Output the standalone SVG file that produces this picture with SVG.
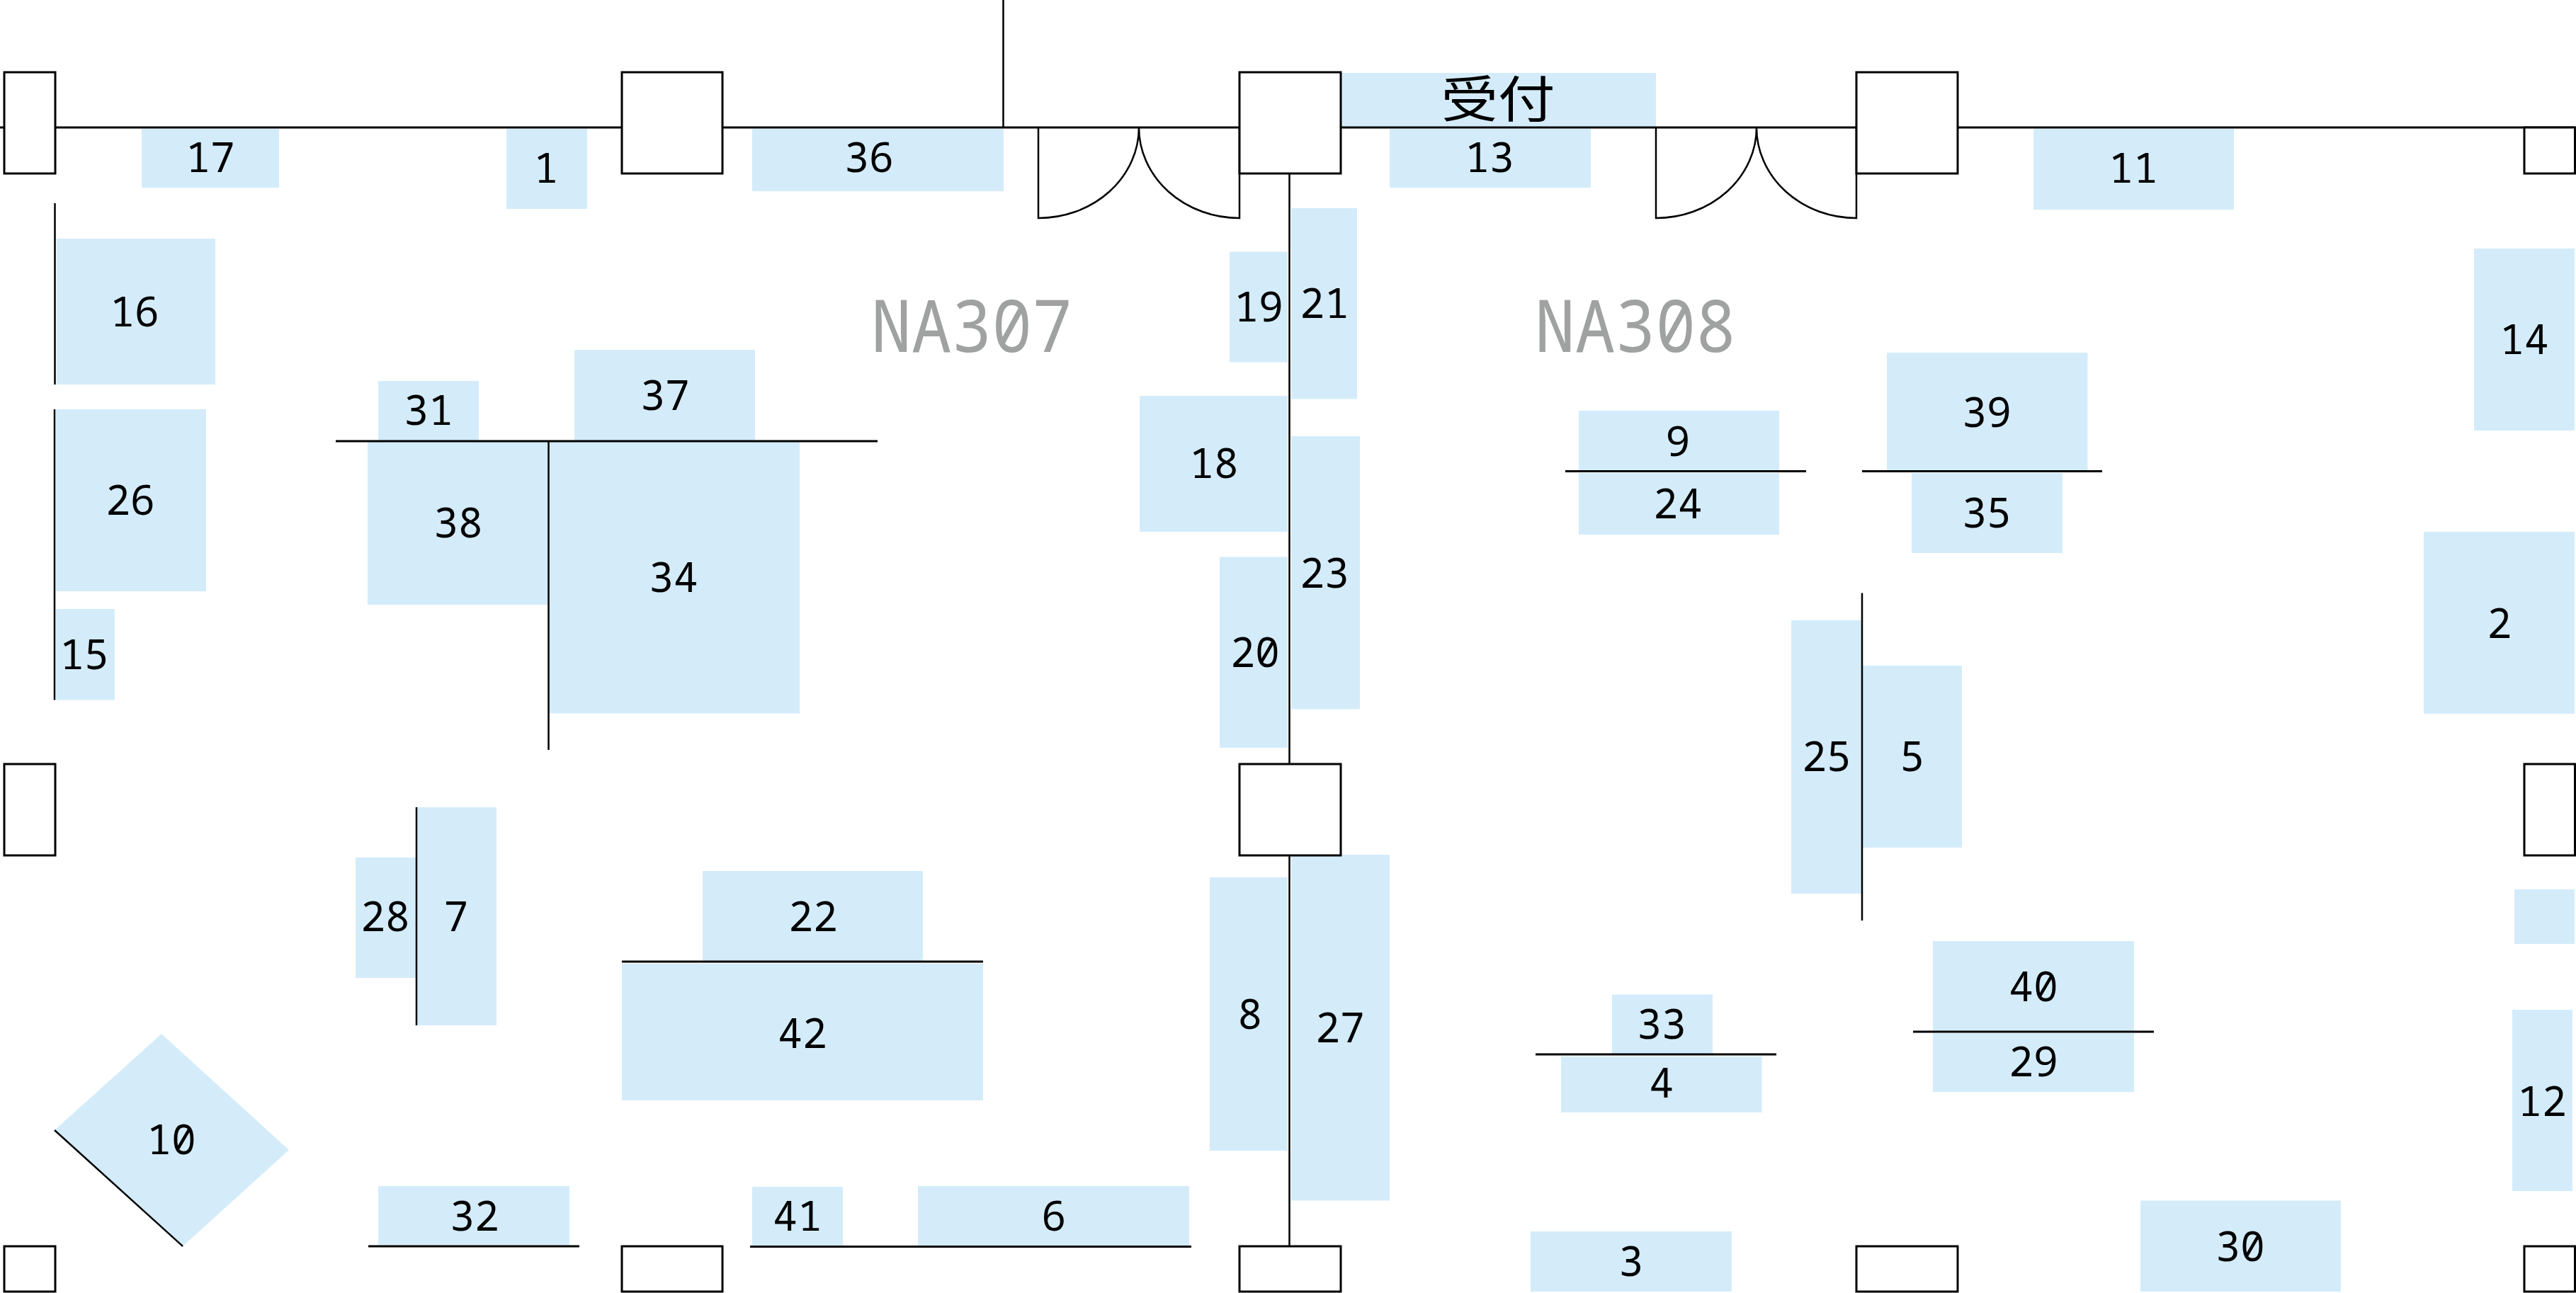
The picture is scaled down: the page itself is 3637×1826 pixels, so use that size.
<svg xmlns="http://www.w3.org/2000/svg" width="3637" height="1826" viewBox="0 0 3637 1826">
<style>
.b{fill:#d4ecfa}
.p{fill:#fff;stroke:#000;stroke-width:3}
.w{fill:none;stroke:#000;stroke-width:3}
.d{fill:none;stroke:#000;stroke-width:2.500}
text{font-family:"Noto Sans Mono","DejaVu Sans Mono","Noto Sans CJK JP",monospace;font-size:58px;fill:#000;text-anchor:middle}
.r{font-size:102px;fill:#a0a1a1}
.c{font-size:70px}
</style>
<rect width="3637" height="1826" fill="#fff"/>
<g id="booth-1"><rect class="b" x="715" y="182" width="114" height="113"/><text x="771" y="258">1</text></g>
<g id="booth-2"><rect class="b" x="3422" y="751" width="213" height="257"/><text x="3529" y="901">2</text></g>
<g id="booth-3"><rect class="b" x="2161" y="1739" width="284" height="85"/><text x="2303" y="1802">3</text></g>
<g id="booth-4"><rect class="b" x="2204" y="1492" width="283.500" height="79"/><text x="2346" y="1550">4</text></g>
<g id="booth-5"><rect class="b" x="2630" y="940" width="140" height="257"/><text x="2700" y="1089">5</text></g>
<g id="booth-6"><rect class="b" x="1296" y="1675" width="383" height="84"/><text x="1488" y="1738">6</text></g>
<g id="booth-7"><rect class="b" x="588" y="1140" width="113" height="308"/><text x="644" y="1315">7</text></g>
<g id="booth-8"><rect class="b" x="1708" y="1239" width="110" height="386"/><text x="1765" y="1453">8</text></g>
<g id="booth-9"><rect class="b" x="2229" y="580" width="283" height="85"/><text x="2369" y="644">9</text></g>
<g id="booth-10"><polygon class="b" points="228,1460 408,1624 258,1760 77,1596"/><text x="242" y="1630">10</text></g>
<g id="booth-11"><rect class="b" x="2871" y="182" width="283" height="114"/><text x="3012" y="258">11</text></g>
<g id="booth-12"><rect class="b" x="3547" y="1426" width="85" height="256"/><text x="3589" y="1576">12</text></g>
<g id="booth-13"><rect class="b" x="1962" y="182" width="284" height="83"/><text x="2103" y="243">13</text></g>
<g id="booth-14"><rect class="b" x="3493" y="351" width="142" height="257"/><text x="3564" y="500">14</text></g>
<g id="booth-15"><rect class="b" x="79" y="860" width="83" height="128.500"/><text x="119" y="945">15</text></g>
<g id="booth-16"><rect class="b" x="80" y="337" width="224" height="206"/><text x="190" y="461">16</text></g>
<g id="booth-17"><rect class="b" x="200" y="182" width="194" height="83"/><text x="297" y="243">17</text></g>
<g id="booth-18"><rect class="b" x="1609" y="559" width="209" height="192"/><text x="1714" y="675">18</text></g>
<g id="booth-19"><rect class="b" x="1736" y="355.500" width="82" height="156"/><text x="1777" y="454">19</text></g>
<g id="booth-20"><rect class="b" x="1722" y="786.500" width="96" height="269.500"/><text x="1772" y="941.500">20</text></g>
<g id="booth-21"><rect class="b" x="1823" y="294" width="93" height="269.500"/><text x="1870" y="449">21</text></g>
<g id="booth-22"><rect class="b" x="992" y="1230" width="311" height="127"/><text x="1148" y="1315">22</text></g>
<g id="booth-23"><rect class="b" x="1823" y="616" width="97" height="385.500"/><text x="1870" y="829.500">23</text></g>
<g id="booth-24"><rect class="b" x="2229" y="668" width="283" height="87"/><text x="2369" y="732">24</text></g>
<g id="booth-25"><rect class="b" x="2529" y="876" width="99" height="386"/><text x="2579" y="1089">25</text></g>
<g id="booth-26"><rect class="b" x="79" y="578" width="212" height="257"/><text x="184" y="727">26</text></g>
<g id="booth-27"><rect class="b" x="1823" y="1207" width="139" height="488.500"/><text x="1892" y="1472">27</text></g>
<g id="booth-28"><rect class="b" x="502" y="1211" width="85" height="170"/><text x="544" y="1315">28</text></g>
<g id="booth-29"><rect class="b" x="2729" y="1459" width="284" height="83"/><text x="2871" y="1520">29</text></g>
<g id="booth-30"><rect class="b" x="3022" y="1695.500" width="283" height="128.500"/><text x="3163" y="1780.500">30</text></g>
<g id="booth-31"><rect class="b" x="534" y="538" width="142" height="84"/><text x="605" y="600">31</text></g>
<g id="booth-32"><rect class="b" x="534" y="1675" width="270" height="83"/><text x="670" y="1738">32</text></g>
<g id="booth-33"><rect class="b" x="2276" y="1404.500" width="142" height="83.500"/><text x="2346" y="1467">33</text></g>
<g id="booth-34"><rect class="b" x="775" y="624" width="354" height="383.500"/><text x="951" y="835.500">34</text></g>
<g id="booth-35"><rect class="b" x="2699" y="668" width="213" height="113"/><text x="2805" y="744.500">35</text></g>
<g id="booth-36"><rect class="b" x="1062" y="182" width="355" height="88"/><text x="1227" y="243">36</text></g>
<g id="booth-37"><rect class="b" x="811" y="494" width="255" height="128"/><text x="939" y="579">37</text></g>
<g id="booth-38"><rect class="b" x="519" y="624" width="254" height="230"/><text x="647" y="759">38</text></g>
<g id="booth-39"><rect class="b" x="2664" y="498" width="283.500" height="166"/><text x="2805" y="603">39</text></g>
<g id="booth-40"><rect class="b" x="2729" y="1329" width="284" height="127"/><text x="2871" y="1413.500">40</text></g>
<g id="booth-41"><rect class="b" x="1062" y="1676" width="128" height="84"/><text x="1126" y="1738">41</text></g>
<g id="booth-42"><rect class="b" x="878" y="1361" width="510" height="193"/><text x="1133" y="1480">42</text></g>
<g id="booth-blank"><rect class="b" x="3550" y="1256" width="85" height="77"/></g>
<g id="reception"><rect class="b" x="1893" y="103" width="445" height="77"/><text class="c" x="2115" y="166" textLength="161" lengthAdjust="spacingAndGlyphs">受付</text></g>
<g id="connectors">
<path class="w" d="M0 180H3635"/>
<path class="d" d="M1416.500 0V180M1820.500 245V1079M1820.500 1208V1760M77.500 287V543M77 578V988.500M774.500 623V1059M588 1140V1448M2629 837.500V1300"/>
<path class="w" d="M474 623H1239M878 1358H1388M2210 665.500H2550M2629 665.500H2968M2168 1489H2508M2701 1457H3041M520 1760H818M1059 1760.500H1682"/>
<path class="d" d="M77 1596L258 1760"/>
<path class="d" d="M1466 180V308A142 128 0 0 0 1608 180A142 128 0 0 0 1750 308V180"/>
<path class="d" d="M2338 180V308A142 128 0 0 0 2480 180A141 128 0 0 0 2621 308V180"/>
</g>
<g id="pillar-top-1"><rect class="p" x="6" y="102" width="72" height="143"/></g>
<g id="pillar-top-2"><rect class="p" x="878" y="102" width="142" height="143"/></g>
<g id="pillar-top-3"><rect class="p" x="1750" y="102" width="143" height="143"/></g>
<g id="pillar-top-4"><rect class="p" x="2621" y="102" width="143" height="143"/></g>
<g id="pillar-top-5"><rect class="p" x="3564" y="180" width="71.500" height="65"/></g>
<g id="pillar-mid-1"><rect class="p" x="6" y="1079" width="72" height="129"/></g>
<g id="pillar-mid-2"><rect class="p" x="1750" y="1079" width="143" height="129"/></g>
<g id="pillar-mid-3"><rect class="p" x="3564" y="1079" width="71.500" height="129"/></g>
<g id="pillar-bottom-1"><rect class="p" x="6" y="1760" width="72" height="64"/></g>
<g id="pillar-bottom-2"><rect class="p" x="878" y="1760" width="142" height="64"/></g>
<g id="pillar-bottom-3"><rect class="p" x="1750" y="1760" width="143" height="64"/></g>
<g id="pillar-bottom-4"><rect class="p" x="2621" y="1760" width="143" height="64"/></g>
<g id="pillar-bottom-5"><rect class="p" x="3564" y="1760" width="71.500" height="64"/></g>
<g id="room-labels"><text class="r" x="1372" y="497" textLength="284" lengthAdjust="spacingAndGlyphs">NA307</text><text class="r" x="2309" y="497" textLength="284" lengthAdjust="spacingAndGlyphs">NA308</text></g>
</svg>
